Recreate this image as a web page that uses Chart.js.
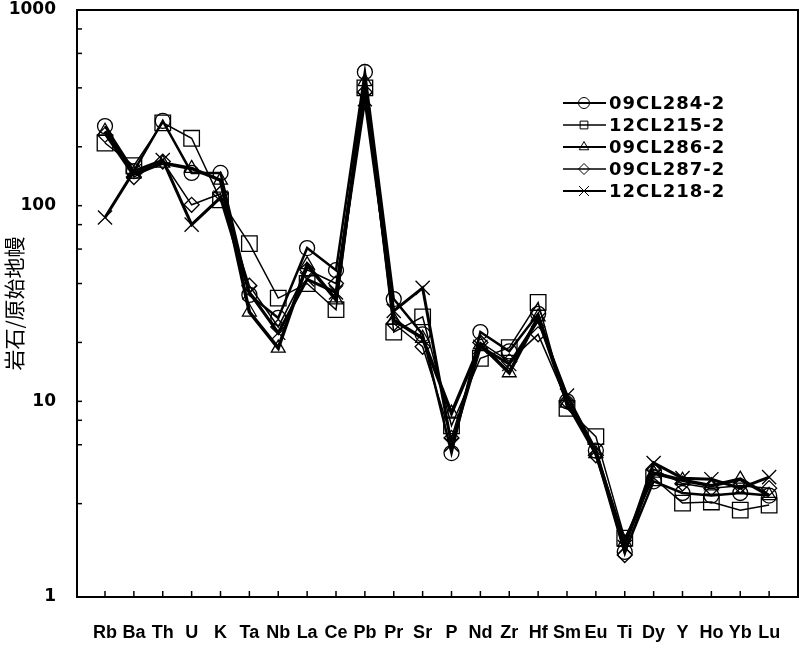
<!DOCTYPE html>
<html>
<head>
<meta charset="utf-8">
<script src="https://cdn.jsdelivr.net/npm/chart.js@4.4.1/dist/chart.umd.min.js"></script>
<style>
  body { margin: 0; background: #fff; }
</style>
</head>
<body>
<canvas id="spider" width="800" height="645"></canvas>
<script>
// elements (primitive mantle normalised)
const categories = ['Rb', 'Ba', 'Th', 'U', 'K', 'Ta', 'Nb', 'La', 'Ce', 'Pb', 'Pr', 'Sr',
    'P', 'Nd', 'Zr', 'Hf', 'Sm', 'Eu', 'Ti', 'Dy', 'Y', 'Ho', 'Yb', 'Lu'];

const s09CL284 = [255, 150, 271, 147, 147, 35, 26.7, 60.7, 46.8, 482, 33.3, 22, 5.44, 22.6, 18, 28, 10, 5.6, 1.7, 3.9, 3.4, 3.3, 3.4, 3.3];
const s12CL215 = [209, 160, 265, 221, 107, 64, 33.7, 40, 29.4, 400, 22.6, 27, 7.5, 16.6, 18.8, 32, 9.2, 6.6, 2.0, 4.06, 3.02, 3.06, 2.78, 2.95];
const s09CL286 = [240, 145, 165, 155, 135, 28.6, 18.7, 50, 33, 430, 26, 21, 8.7, 19.5, 14, 27, 9.8, 5.4, 1.9, 4.3, 3.95, 3.7, 4.0, 3.3];
const s09CL287 = [230, 140, 168, 101, 115, 39, 24, 47, 40, 380, 25, 19, 6.5, 20, 16, 22, 10, 5.3, 1.64, 4.5, 3.8, 3.6, 3.7, 3.6];
const s12CL218 = [87, 150, 171, 80, 110, 36, 22.4, 42, 36, 350, 29, 38, 6.0, 19, 15.5, 26, 10.7, 5.6, 1.8, 4.84, 4.05, 4.0, 3.6, 4.1];

const yTickValues = [1, 10, 100, 1000];

function toPoints(arr) {
    return arr.map((v, i) => ({ x: i, y: v }));
}

function makeSet(label, arr, style, radius, width) {
    return {
        label: label,
        data: toPoints(arr),
        borderColor: '#000',
        backgroundColor: 'rgba(0,0,0,0)',
        borderWidth: width,
        pointStyle: style,
        pointRadius: radius,
        pointBorderWidth: 1.3,
        pointBorderColor: '#000',
        pointBackgroundColor: 'rgba(0,0,0,0)',
        tension: 0
    };
}

// frame + inward ticks
const framePlugin = {
    id: 'frame',
    beforeDatasetsDraw(chart) {
        const ctx = chart.ctx;
        const a = chart.chartArea;
        ctx.save();
        ctx.strokeStyle = '#000';
        ctx.lineWidth = 1.5;
        // y ticks (log, minor ones too)
        chart.scales.y.ticks.forEach(t => {
            const py = chart.scales.y.getPixelForValue(t.value);
            ctx.beginPath();
            ctx.moveTo(a.left, py);
            ctx.lineTo(a.left + 5, py);
            ctx.stroke();
        });
        chart.scales.x.ticks.forEach(t => {
            const px = chart.scales.x.getPixelForValue(t.value);
            ctx.beginPath();
            ctx.moveTo(px, a.bottom);
            ctx.lineTo(px, a.bottom - 6);
            ctx.stroke();
        });
        ctx.lineWidth = 2;
        ctx.strokeRect(a.left, a.top, a.right - a.left, a.bottom - a.top);
        ctx.restore();
    }
};

// legend inside plot area
const legendPlugin = {
    id: 'innerLegend',
    afterDraw(chart) {
        const ctx = chart.ctx;
        const a = chart.chartArea;
        const x0 = a.right - 235;
        const y0 = a.top + 93;
        ctx.save();
        chart.data.datasets.forEach((ds, i) => {
            const y = y0 + i * 22;
            ctx.strokeStyle = '#000';
            ctx.lineWidth = Math.min(ds.borderWidth, 2);
            ctx.beginPath();
            ctx.moveTo(x0, y);
            ctx.lineTo(x0 + 43, y);
            ctx.stroke();
            ctx.lineWidth = 1;
            ctx.fillStyle = 'rgba(0,0,0,0)';
            Chart.helpers.drawPoint(ctx, {
                pointStyle: ds.pointStyle,
                radius: ds.pointStyle === 'crossRot' ? 7 : 5.5,
                rotation: 0,
                borderWidth: 1
            }, x0 + 21, y);
            ctx.fillStyle = '#000';
            ctx.font = 'bold 18px "DejaVu Sans"';
            ctx.letterSpacing = '1px';
            ctx.textBaseline = 'middle';
            ctx.textAlign = 'left';
            ctx.fillText(ds.label, x0 + 46, y + 1);
        });
        ctx.restore();
    }
};

const ctx = document.getElementById('spider');

new Chart(ctx, {
    type: 'line',
    data: {
        datasets: [
            makeSet('09CL284-2', s09CL284, 'circle', 7.5, 2.5),
            makeSet('12CL215-2', s12CL215, 'rect', 11, 1.5),
            makeSet('09CL286-2', s09CL286, 'triangle', 8, 3.5),
            makeSet('09CL287-2', s09CL287, 'rectRot', 7.5, 1.5),
            makeSet('12CL218-2', s12CL218, 'crossRot', 10, 3)
        ]
    },
    options: {
        responsive: false,
        animation: false,
        layout: { autoPadding: false, padding: { top: 10, right: 2, left: 0, bottom: 0 } },
        plugins: {
            legend: { display: false },
            tooltip: { enabled: false }
        },
        scales: {
            x: {
                type: 'linear',
                position: 'bottom',
                min: -0.97,
                max: 24.0,
                afterBuildTicks: s => { s.ticks = categories.map((c, i) => ({ value: i })); },
                afterFit: s => {
                    s.height = 48;
                    s.paddingLeft = 0;
                    s.paddingRight = 0;
                },
                grid: { display: false, drawTicks: false },
                border: { display: false },
                ticks: {
                    autoSkip: false,
                    maxRotation: 0,
                    padding: 25,
                    color: '#000',
                    font: { family: 'Arial, "Liberation Sans"', size: 18, weight: 'bold' },
                    callback: v => categories[v] ?? ''
                }
            },
            y: {
                type: 'logarithmic',
                min: 1,
                max: 1000,
                afterFit: s => {
                    s.width = 77;
                    s.paddingTop = 0;
                    s.paddingBottom = 0;
                },
                grid: { display: false, drawTicks: false },
                border: { display: false },
                title: {
                    display: true,
                    text: '岩石/原始地幔',
                    color: '#000',
                    padding: { top: 1, bottom: 1 },
                    font: { family: '"Noto Sans CJK SC"', size: 21 }
                },
                ticks: {
                    padding: 21,
                    color: '#000',
                    font: { family: '"DejaVu Sans"', size: 17, weight: 'bold' },
                    callback: v => {
                        const l = Math.log10(v);
                        return yTickValues.includes(Math.round(v)) && Math.abs(l - Math.round(l)) < 1e-6 ? String(Math.round(v)) : '';
                    }
                }
            }
        }
    },
    plugins: [framePlugin, legendPlugin]
});
</script>
</body>
</html>
